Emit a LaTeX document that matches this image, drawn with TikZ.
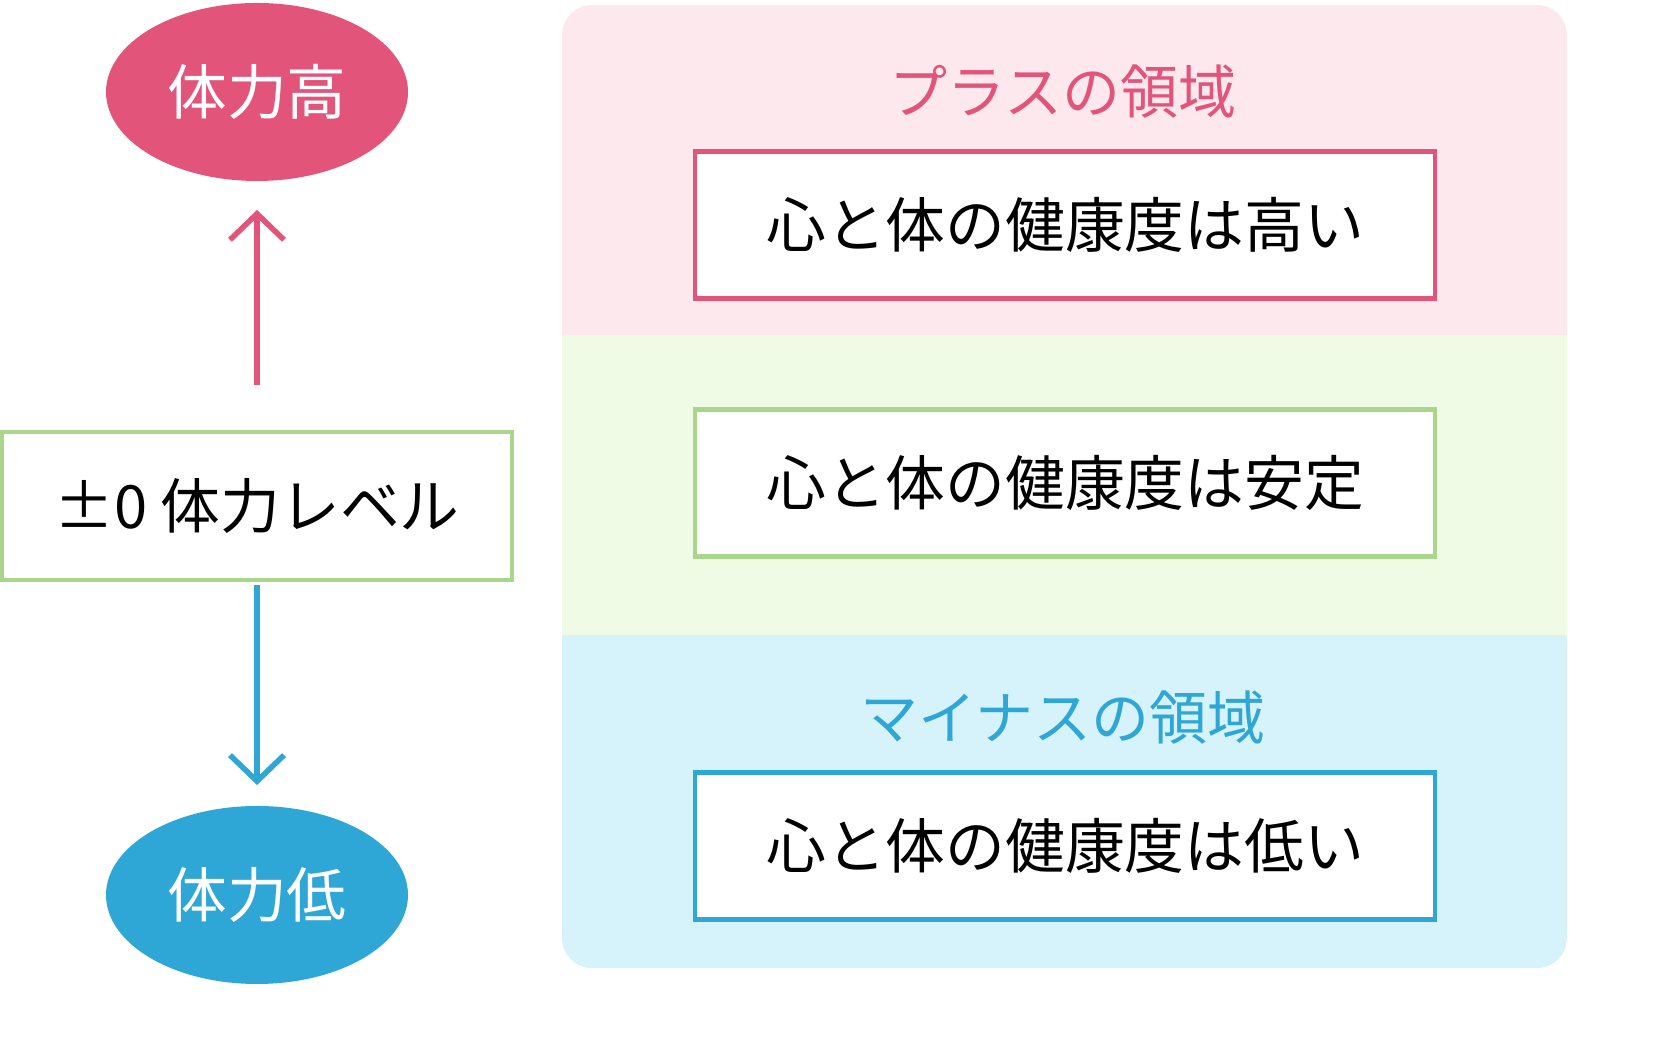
\documentclass[tikz,border=0pt]{standalone}
\usepackage{fontspec}
\setmainfont{Noto Sans CJK JP}
\usetikzlibrary{arrows.meta,shapes.geometric}
\definecolor{plusred}{HTML}{E3547A}
\definecolor{minusblue}{HTML}{2EA7D6}
\definecolor{levelgreen}{HTML}{A9D68A}
\definecolor{pinkbg}{HTML}{FDE8EE}
\definecolor{greenbg}{HTML}{F0FBE6}
\definecolor{bluebg}{HTML}{D6F2FB}
\tikzset{
  pole/.style={ellipse, minimum width=3.02cm, minimum height=1.78cm, text=white, font=\fontsize{17}{20}\selectfont},
  statebox/.style={draw, line width=0.45mm, fill=white, minimum width=7.4cm, minimum height=1.47cm, font=\fontsize{17}{20}\selectfont},
  zonetitle/.style={font=\fontsize{16.5}{20}\selectfont},
  flow/.style={line width=0.55mm, -{Straight Barb[length=2.6mm, width=5.4mm]}}
}
\begin{document}
\begin{tikzpicture}
  \useasboundingbox (0,0) rectangle (16.8,10.57);
  % right side bands
  \begin{scope}
    \clip[rounded corners=0.3cm] (5.62,0.89) rectangle (15.67,10.52);
    \fill[pinkbg] (5.62,7.22) rectangle (15.67,10.52);
    \fill[greenbg] (5.62,4.22) rectangle (15.67,7.22);
    \fill[bluebg] (5.62,0.89) rectangle (15.67,4.22);
  \end{scope}

  % left column
  \node[pole, fill=plusred] (high) at (2.57,9.65) {体力高};
  \node[pole, fill=minusblue] (low) at (2.57,1.62) {体力低};
  \node[statebox, draw=levelgreen, minimum width=5.1cm, minimum height=1.48cm] (level) at (2.57,5.51) {±0 体力レベル};
  \coordinate (uptop) at (2.57,8.47);
  \coordinate (upbot) at (2.57,6.72);
  \coordinate (dntop) at (2.57,4.72);
  \coordinate (dnbot) at (2.57,2.72);
  \draw[flow, plusred] (upbot) -- (uptop);
  \draw[flow, minusblue] (dntop) -- (dnbot);

  % right column
  \node[zonetitle, text=plusred] (plustitle) at (10.63,9.65) {プラスの領域};
  \node[statebox, draw=plusred] (highbox) at (10.65,8.32) {心と体の健康度は高い};
  \node[statebox, draw=levelgreen] (midbox) at (10.65,5.74) {心と体の健康度は安定};
  \node[zonetitle, text=minusblue] (minustitle) at (10.63,3.39) {マイナスの領域};
  \node[statebox, draw=minusblue] (lowbox) at (10.65,2.11) {心と体の健康度は低い};
\end{tikzpicture}
\end{document}
